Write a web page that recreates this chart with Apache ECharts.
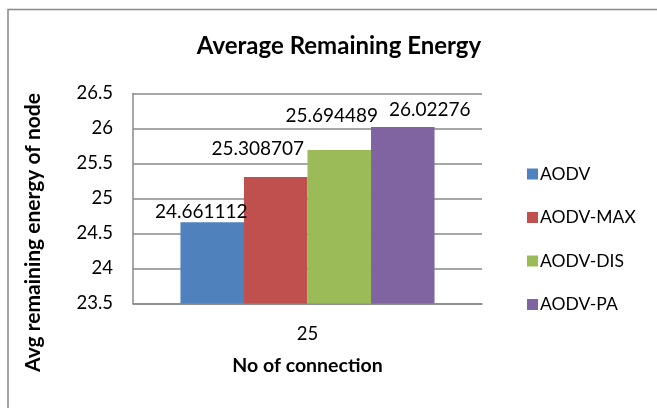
<!DOCTYPE html>
<html>
<head>
<meta charset="utf-8">
<script src="https://cdn.jsdelivr.net/npm/echarts@6/dist/echarts.min.js"></script>
<style>
  html, body { margin: 0; padding: 0; background: #fff; }
  #chart { width: 657px; height: 408px; }
</style>
</head>
<body>
<div id="chart"></div>
<script>
// Average remaining energy per routing variant
const categories = ['25'];
const seriesNames = ['AODV', 'AODV-MAX', 'AODV-DIS', 'AODV-PA'];
const aodv = [24.661112];
const aodvMax = [25.308707];
const aodvDis = [25.694489];
const aodvPa = [26.02276];
const yTicks = [23.5, 24, 24.5, 25, 25.5, 26, 26.5];

const colors = ['#4F81BD', '#C0504D', '#9BBB59', '#8064A2'];
const labelOffsets = [[-11, 4], [-18, -14], [-7.5, -20], [27, -3]];
const values = [aodv, aodvMax, aodvDis, aodvPa];
const FONT = 'Lato, "Open Sans", sans-serif';

const chart = echarts.init(document.getElementById('chart'));
chart.setOption({
  animation: false,
  backgroundColor: '#fff',
  title: {
    text: 'Average Remaining Energy',
    left: 334, top: 29, textAlign: 'center',
    textStyle: { fontFamily: FONT, fontSize: 24, fontWeight: 'bold', color: '#000' }
  },
  legend: {
    orient: 'vertical',
    left: 522, top: 160,
    itemWidth: 11, itemHeight: 11, itemGap: 25.5,
    icon: 'rect',
    textStyle: { fontFamily: FONT, fontSize: 17.5, color: '#000', padding: [0, 0, 0, -3] },
    data: seriesNames
  },
  grid: { left: 133, top: 93.5, right: 175, bottom: 104.5 },
  xAxis: {
    type: 'category',
    data: categories,
    name: 'No of connection',
    nameLocation: 'middle',
    nameGap: 52.5,
    nameTextStyle: { fontFamily: FONT, fontSize: 19.5, fontWeight: 'bold', color: '#000' },
    axisLine: { lineStyle: { color: '#888', width: 1.5 } },
    axisTick: { show: false },
    axisLabel: { fontFamily: FONT, fontSize: 18.5, color: '#000', margin: 21 }
  },
  yAxis: {
    type: 'value',
    min: yTicks[0],
    max: yTicks[yTicks.length - 1],
    interval: 0.5,
    name: 'Avg remaining energy of node',
    nameLocation: 'middle',
    nameGap: 89.5,
    nameTextStyle: { fontFamily: FONT, fontSize: 21, fontWeight: 'bold', color: '#000', padding: [0, 68, 0, 0] },
    axisLine: { show: true, lineStyle: { color: '#888', width: 1.5 } },
    axisTick: { show: false },
    splitLine: { lineStyle: { color: '#888', width: 1.5 } },
    axisLabel: { fontFamily: FONT, fontSize: 18.5, color: '#000', margin: 20 }
  },
  series: seriesNames.map((name, i) => ({
    name,
    type: 'bar',
    data: values[i],
    barGap: '0%',
    barCategoryGap: '27.2%',
    itemStyle: { color: colors[i] },
    label: {
      show: true,
      position: 'top',
      offset: labelOffsets[i],
      fontFamily: FONT, fontSize: 19, color: '#000',
      formatter: p => String(p.value)
    }
  })),
  graphic: [{
    type: 'rect',
    shape: { x: 8, y: 9.5, width: 700, height: 450 },
    style: { fill: 'none', stroke: '#888', lineWidth: 1.5 },
    silent: true
  }]
});
</script>
</body>
</html>
